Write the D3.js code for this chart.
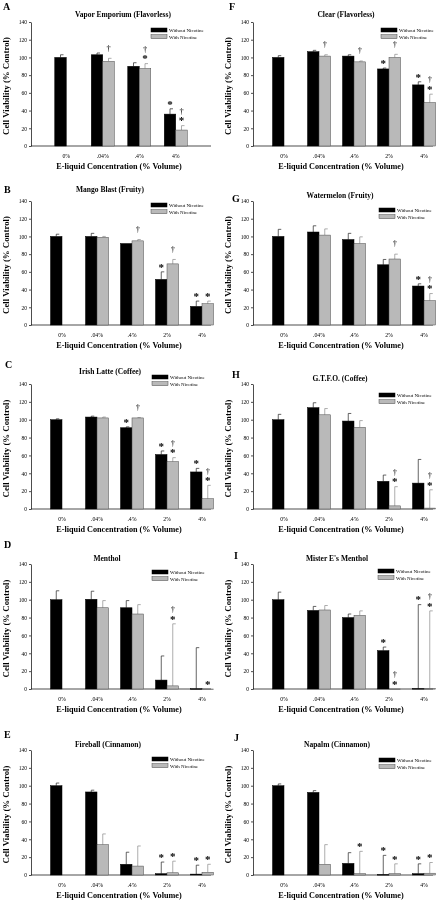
<!DOCTYPE html>
<html><head><meta charset="utf-8">
<script src="https://cdn.jsdelivr.net/npm/d3@7"></script>
<style>body{margin:0;background:#fff} svg{display:block;will-change:transform} text{font-family:"Liberation Serif","Times New Roman",serif}</style>
</head><body><svg id="c" width="444" height="900"></svg>
<script>
// ---------- data ----------
const letters = ["A","B","C","D","E","F","G","H","I","J"];
const titles = ["Vapor Emporium (Flavorless)","Mango Blast (Fruity)","Irish Latte (Coffee)","Menthol","Fireball (Cinnamon)",
                "Clear (Flavorless)","Watermelon (Fruity)","G.T.F.O. (Coffee)","Mister E's Menthol","Napalm (Cinnamon)"];
const cats4 = ["0%", ".04%", ".4%", "4%"];
const cats5 = ["0%", ".04%", ".4%", "2%", "4%"];
const yTicks = [0, 20, 40, 60, 80, 100, 120, 140];
const legendLabels = ["Without Nicotine", "With Nicotine"];
const xLabel = "E-liquid Concentration (% Volume)";
const yLabel = "Cell Viability (% Control)";

const withoutNic = [
  [100, 103, 90, 36],
  [100, 100, 92, 51.5, 21],
  [100, 103, 91, 61, 41.5],
  [100, 100.5, 91, 10, 0.3],
  [100, 93, 12, 1.5, 1],
  [100, 106.5, 101.5, 87, 69],
  [100, 105, 96.5, 68, 44],
  [100, 113.5, 98.5, 31, 29],
  [100, 88, 80, 43, 0.5],
  [100, 92.5, 13, 0.5, 1.5]
];
const withoutErr = [
  [3, 2, 4, 6],
  [2.5, 3.5, 0, 8.5, 6],
  [1, 1, 1, 4, 4],
  [10, 9, 8, 27, 46],
  [3, 2, 13.5, 13, 10],
  [2, 1.5, 1.5, 1, 3.5],
  [8, 7, 7, 6, 2.5],
  [6, 5.5, 8.5, 7, 26.5],
  [8.5, 4.5, 4, 4, 94],
  [2, 2, 12, 21.5, 11]
];
const withNic = [
  [null, 95.5, 87.5, 18],
  [null, 99, 95, 69, 24],
  [null, 102, 102, 53, 11.5],
  [null, 91, 84, 3.5, 0],
  [null, 34, 10, 2.5, 3],
  [null, 101.5, 95, 100, 49],
  [null, 101.5, 92, 74.5, 27.5],
  [null, 105.5, 91.5, 3.5, 1],
  [null, 88.5, 82.5, 0, 0.5],
  [null, 12, 1.5, 1.5, 2]
];
const withErr = [
  [null, 3.5, 5.5, 5],
  [null, 1, 1.5, 5, 3],
  [null, 1, 0.5, 4.5, 15],
  [null, 8, 10.5, 69.5, 0],
  [null, 12, 22.5, 13, 9],
  [null, 1.5, 1, 3.5, 9.5],
  [null, 7, 7.5, 5.5, 8],
  [null, 7, 7.5, 21.5, 20.5],
  [null, 5, 5, 0, 87],
  [null, 22, 25, 11, 12]
];
const sigWithout = [
  ["", "", "", "*"],
  ["", "", "", "*", "*"],
  ["", "", "*", "*", "*"],
  ["", "", "", "", ""],
  ["", "", "", "*", "*"],
  ["", "", "", "*", "*"],
  ["", "", "", "", "*"],
  ["", "", "", "", ""],
  ["", "", "", "*", "*"],
  ["", "", "", "*", "*"]
];
const sigWith = [
  ["", "†", "†*", "†*"],
  ["", "", "†", "†", "*"],
  ["", "", "†", "†*", "†*"],
  ["", "", "", "†*", "*"],
  ["", "", "", "*", "*"],
  ["", "†", "†", "†", "†*"],
  ["", "", "", "†", "†*"],
  ["", "", "", "†*", "†*"],
  ["", "", "", "†*", "†*"],
  ["", "", "*", "*", "*"]
];

// ---------- layout ----------
const colX = [31, 253];
const rowY = [[22,146],[201,325],[384,509],[564,689],[750,875]];
const letterPos = [[3,10],[4,193],[5,368],[4,548],[4,738],[229,10],[232,202],[232,378],[234,559],[234,741]];
const titleY = [17,192,374,561,747,17,198,381,561,747];
const titleX = [123,110,110,107,108,346,340,340,337,337];
const legendY = [28,203,375,570,757,28,208,393,569,758];
const legendX = [151,151,152,152,152,381,379,379,378,379];

const svg = d3.select("#c");
const BW = 11.5;
const GRAY = "#b9b9b9";

for (let p = 0; p < 10; p++) {
  const col = p < 5 ? 0 : 1, row = p % 5;
  const ax = colX[col];
  const [yt, yb] = rowY[row];
  const cats = p === 0 ? cats4 : cats5;
  const x = d3.scaleBand().domain(cats)
    .range(p === 0 ? [ax + 17, ax + 17 + 146] : [ax + 13.5, ax + 13.5 + 175]).padding(0);
  const y = d3.scaleLinear().domain([0, 140]).range([yb, yt]);
  const g = svg.append("g");

  g.append("text").attr("x", letterPos[p][0]).attr("y", letterPos[p][1])
    .attr("font-size", 10).attr("font-weight", "bold").text(letters[p]);
  g.append("text").attr("x", titleX[p]).attr("y", titleY[p]).attr("text-anchor", "middle")
    .attr("font-size", 7.5).attr("font-weight", "bold").text(titles[p]);

  const ya = g.append("g").attr("transform", `translate(${ax},0)`)
    .call(d3.axisLeft(y).tickValues(yTicks).tickSize(2).tickPadding(2).tickSizeOuter(0));
  ya.selectAll("text").attr("font-size", 5.5).attr("font-family", "Liberation Serif");
  ya.selectAll("line,path").attr("stroke", "#000").attr("stroke-width", 0.7);

  const xa = g.append("g").attr("transform", `translate(0,${yb})`)
    .call(d3.axisBottom(x).tickSize(0).tickPadding(8));
  xa.select(".domain").remove();
  xa.selectAll("text").attr("font-size", 5.8).attr("font-family", "Liberation Serif");
  g.append("line").attr("x1", ax).attr("x2", ax + 180).attr("y1", yb).attr("y2", yb)
    .attr("stroke", "#000").attr("stroke-width", 0.7);

  g.append("text").attr("x", ax + 88).attr("y", yb + 22.5).attr("text-anchor", "middle")
    .attr("font-size", 8.2).attr("font-weight", "bold").text(xLabel);
  g.append("text").attr("transform", `translate(${ax - 22.5},${(yt + yb) / 2 + 2}) rotate(-90)`)
    .attr("text-anchor", "middle").attr("font-size", 8.8).attr("font-weight", "bold").text(yLabel);

  const drawSeries = (vals, errs, sigs, isGray) => {
    cats.forEach((c, i) => {
      const v = vals[i];
      if (v === null || v === undefined) return;
      const cx = x(c) + x.bandwidth() / 2;
      const bx = isGray ? cx : cx - BW;
      const mid = bx + BW / 2;
      const e = errs[i] || 0;
      if (e > 0) {
        const col = isGray ? "#8a8a8a" : "#222";
        g.append("line").attr("x1", mid).attr("x2", mid).attr("y1", y(v)).attr("y2", y(v + e))
          .attr("stroke", col).attr("stroke-width", 0.7);
        g.append("line").attr("x1", mid).attr("x2", mid + 3).attr("y1", y(v + e)).attr("y2", y(v + e))
          .attr("stroke", col).attr("stroke-width", 0.7);
      }
      g.append("rect").attr("x", bx).attr("y", y(v)).attr("width", BW)
        .attr("height", Math.max(0.6, y(0) - y(v)))
        .attr("fill", isGray ? GRAY : "#000")
        .attr("stroke", isGray ? "#4a4a4a" : "#000").attr("stroke-width", 0.5);
      const s = sigs[i];
      if (s) {
        const top = y(v + e);
        const hasStar = s.includes("*"), hasDag = s.includes("†");
        if (hasStar) g.append("text").attr("x", mid).attr("y", top - 7 + 5.8)
          .attr("text-anchor", "middle").attr("font-size", 11).attr("font-weight", "bold")
          .attr("fill", "#000").text("*");
        if (hasDag) g.append("text").attr("x", mid).attr("y", top - (hasStar ? 14 : 10) + 2.3)
          .attr("text-anchor", "middle").attr("font-size", 8.5).attr("fill", "#000").text("†");
      }
    });
  };
  drawSeries(withoutNic[p], withoutErr[p], sigWithout[p], false);
  drawSeries(withNic[p], withErr[p], sigWith[p], true);

  const lx = legendX[p], ly = legendY[p];
  legendLabels.forEach((lab, k) => {
    g.append("rect").attr("x", lx).attr("y", ly + k * 6.7).attr("width", 16).attr("height", 4)
      .attr("fill", k ? GRAY : "#000").attr("stroke", k ? "#4a4a4a" : "#000").attr("stroke-width", 0.5);
    g.append("text").attr("x", lx + 18).attr("y", ly + k * 6.7 + 4.2)
      .attr("font-size", 5).text(lab);
  });
}
</script></body></html>
